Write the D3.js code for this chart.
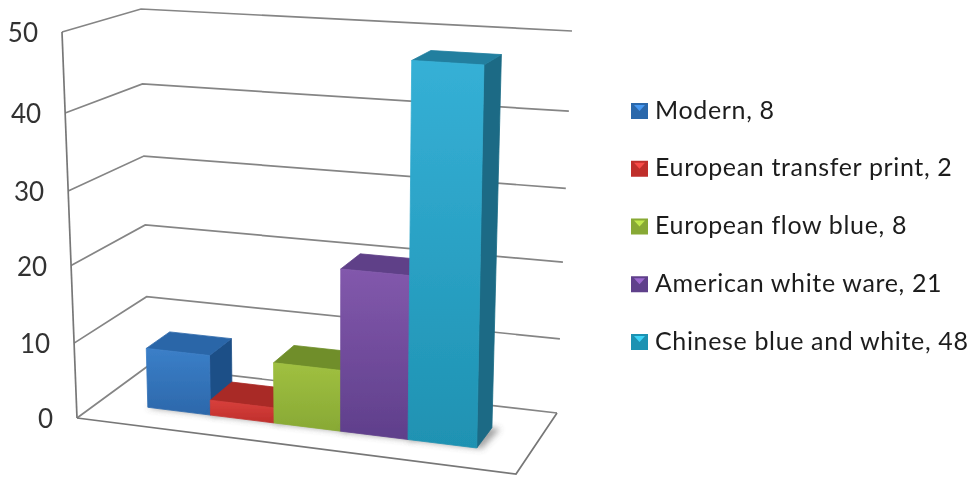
<!DOCTYPE html>
<html><head><meta charset="utf-8">
<script src="https://cdn.jsdelivr.net/npm/d3@7"></script>
<style>html,body{margin:0;padding:0;background:#fff}svg{display:block}text{font-family:Lato,"Open Sans",sans-serif}</style>
</head><body><svg id="c" width="975" height="477"></svg>
<script>
const categories = ["Modern","European transfer print","European flow blue","American white ware","Chinese blue and white"];
const values = [8,2,8,21,48];
const tickValues = [0,10,20,30,40,50];
const fronts = [["#3b7fc8","#2c68ab"],["#d8403c","#bf2f2c"],["#a0c040","#88a935"],["#8258ac","#5f3f8b"],["#35b0d6","#1f92b2"]];
const tops = ["#2a66a8","#a92a26","#6f8e29","#5f4088","#217f9f"];
const sides = ["#1f4f87","#8a211e","#58711f","#4a3170","#1b6b85"];

const svg=d3.select("#c");
const defs=svg.append("defs");
defs.append("filter").attr("id","soft").attr("x","-5%").attr("y","-5%").attr("width","110%").attr("height","110%")
  .append("feGaussianBlur").attr("stdDeviation",0.7);
defs.append("filter").attr("id","shadow").attr("x","-30%").attr("y","-30%").attr("width","160%").attr("height","160%")
  .append("feGaussianBlur").attr("stdDeviation",3);
fronts.forEach((c,i)=>{
  const g=defs.append("linearGradient").attr("id","f"+i).attr("x1",0).attr("y1",0).attr("x2",0).attr("y2",1);
  g.append("stop").attr("offset",0).attr("stop-color",c[0]);
  g.append("stop").attr("offset",1).attr("stop-color",c[1]);
});

// Projection frame: floor and ceiling corners of the 3D box
const floorC={fl:[77,418],fr:[516,474],br:[557,413],bl:[148,366]};
const ceilC ={fl:[62,32],fr:[524,61],br:[572,31],bl:[141,9]};
const bil=(c,u,d)=>[0,1].map(k=>(1-d)*((1-u)*c.fl[k]+u*c.fr[k])+d*((1-u)*c.bl[k]+u*c.br[k]));
const yScale=d3.scaleLinear().domain(tickValues).range([0,.194,.395,.588,.79,1]);
const xEdge=d3.scaleLinear().domain([0,1,2,3,4,5]).range([.112,.258,.406,.561,.718,.878]);
const depth=d3.scaleLinear().domain([0,1]).range([.32,.66]);
const proj=(u,d,v)=>{const a=bil(floorC,u,d),b=bil(ceilC,u,d),t=yScale(v);return [a[0]+(b[0]-a[0])*t,a[1]+(b[1]-a[1])*t];};
const line=d3.line();
const poly=pts=>line(pts)+"Z";

const root=svg.append("g").attr("filter","url(#soft)");
const grid=root.append("g").attr("fill","none").attr("stroke","#858585").attr("stroke-width",1.7);
tickValues.forEach(v=>{
  grid.append("path").attr("d",line([proj(0,0,v),proj(0,1,v),proj(1,1,v)]));
});
grid.append("path").attr("d",line([proj(0,0,0),proj(1,0,0),proj(1,1,0)])).attr("stroke","#777");
grid.append("path").attr("d",line([proj(0,0,50),proj(0,0,0)])).attr("stroke","#777");

root.append("g").selectAll("text").data(tickValues).join("text")
  .attr("x",v=>proj(0,0,v)[0]-24)
  .attr("y",v=>proj(0,0,v)[1]+10)
  .attr("text-anchor","end").attr("font-size",26).attr("fill","#333").text(v=>v);

const bars=root.append("g");
values.forEach((v,i)=>{
  const u0=xEdge(i),u1=xEdge(i+1),d0=depth(0),d1=depth(1);
  const g=bars.append("g");
  g.append("path").attr("d",poly([proj(u0,d0-.01,0),proj(u1+.012,d0,0),proj(u1+.02,d1,0),proj(u0+.03,d1,0)]))
    .attr("fill","#666").attr("opacity",.6).attr("filter","url(#shadow)");
  const style=(p,fill)=>p.attr("fill",fill).attr("stroke",fill).attr("stroke-width",.8).attr("stroke-linejoin","round");
  style(g.append("path").attr("d",poly([proj(u1,d0,0),proj(u1,d1,0),proj(u1,d1,v),proj(u1,d0,v)])),sides[i]);
  style(g.append("path").attr("d",poly([proj(u0,d0,v),proj(u1,d0,v),proj(u1,d1,v),proj(u0,d1,v)])),tops[i]);
  style(g.append("path").attr("d",poly([proj(u0,d0,0),proj(u1,d0,0),proj(u1,d0,v),proj(u0,d0,v)])),`url(#f${i})`);
});

const legendY=d3.scalePoint().domain(categories).range([111,342]);
const lg=root.append("g").selectAll("g").data(categories).join("g")
  .attr("transform",d=>`translate(631,${legendY(d)})`);
lg.append("rect").attr("x",0).attr("y",-8).attr("width",17).attr("height",16).attr("fill",(d,i)=>fronts[i][1]);
lg.append("path").attr("d","M3,-6H14L8.5,0Z").attr("fill",(d,i)=>fronts[i][0]).attr("opacity",.9)
  .attr("style","filter:brightness(1.25)");
lg.append("text").attr("x",24).attr("y",7.5).attr("font-size",25).attr("letter-spacing",0.65).attr("fill","#1c1c1c")
  .text((d,i)=>`${d}, ${values[i]}`);
</script></body></html>
